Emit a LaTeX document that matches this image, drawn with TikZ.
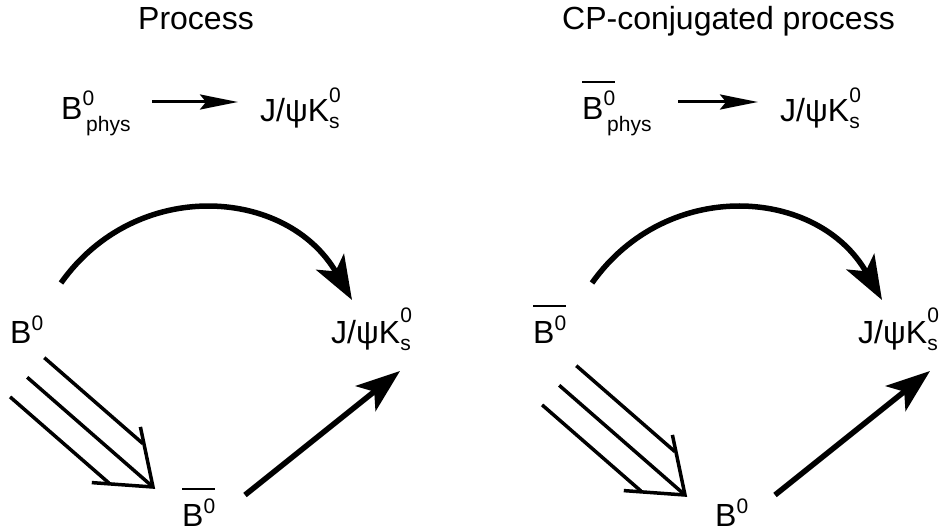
\documentclass[tikz,border=0pt]{standalone}
\usepackage{fontspec}
\setmainfont{Liberation Sans}
\usetikzlibrary{arrows.meta,calc}
\newcommand\lblfont{\fontsize{32}{36}\selectfont}
\newcommand\scr{\fontsize{21}{21}\selectfont}
\newcommand\up[2]{\raisebox{#1}{\scr #2}}
\newcommand\upsub[4]{\rlap{\raisebox{#1}{\scr #2}}\raisebox{-#3}{\scr #4}}
\newcommand\barred[1]{\setbox0\hbox{#1}\rlap{\raisebox{\dimexpr\ht0+8pt\relax}{\rule{\wd0}{2pt}}}\box0}
\tikzset{
  lab/.style={anchor=base west,inner sep=0pt,font=\lblfont},
  thinarrow/.style={line width=3pt,-{Stealth[length=38pt,width=15pt,inset=6pt]}},
  bigarrow/.style={line width=5.5pt,-{Stealth[length=44pt,width=32pt,inset=11pt]}},
  tripleline/.style={line width=3.5pt},
  triplehead/.style={line width=3.5pt,line join=miter,miter limit=20},
}
\newcommand\triplearrow[1]{%
  \draw[tripleline] ($(#1)+(-125.8,-109.7)$) -- (#1);
  \draw[tripleline] ($(#1)+(-108.7,-129.3)$) -- ($(#1)+(-10,-43.3)$);
  \draw[tripleline] ($(#1)+(-142.9,-90.1)$) -- ($(#1)+(-44.2,-4.1)$);
  \draw[triplehead] ($(#1)+(-12.6,-60.1)$) -- (#1) -- ($(#1)+(-61.2,-4.4)$);
}
\begin{document}
\begin{tikzpicture}[x=1pt,y=-1pt]
\useasboundingbox (0,0) rectangle (945,532);
% titles
\node[lab] (t1) at (138,30) {Process};
\node[lab] (t2) at (562,30) {CP-conjugated process};
% top reactions
\node[lab] (pL) at (61,120) {B\up{14pt}{0}\kern-8pt\raisebox{-12pt}{\scr phys}};
\node[lab] (fL) at (260,122) {J/ψK\upsub{20pt}{0}{6pt}{s}};
\node[lab] (pR) at (582,120) {\barred{B\up{14pt}{0}}\kern-8pt\raisebox{-12pt}{\scr phys}};
\node[lab] (fR) at (780,122) {J/ψK\upsub{20pt}{0}{6pt}{s}};
\coordinate (aL1) at (152,102); \coordinate (aL2) at (238,102);
\coordinate (aR1) at (678,102); \coordinate (aR2) at (758,102);
\draw[thinarrow] (aL1) -- (aL2);
\draw[thinarrow] (aR1) -- (aR2);
% left diagram
\node[lab] (b1) at (10,343) {B\up{13pt}{0}};
\node[lab] (j1) at (331,343) {J/ψK\upsub{21pt}{0}{7pt}{s}};
\node[lab] (c1) at (182,526) {\barred{B\up{13pt}{0}}};
\coordinate (cs1) at (61,283); \coordinate (ce1) at (352,300);
\draw[bigarrow] (cs1) .. controls (136,177) and (287,187) .. (ce1);
\coordinate (ss1) at (245,495); \coordinate (se1) at (400,371);
\draw[bigarrow] (ss1) -- (se1);
\coordinate (tt1) at (153,487);
\triplearrow{tt1}
% right diagram
\node[lab] (b2) at (533,343) {\barred{B\up{13pt}{0}}};
\node[lab] (j2) at (858,343) {J/ψK\upsub{21pt}{0}{7pt}{s}};
\node[lab] (c2) at (715,526) {B\up{13pt}{0}};
\coordinate (cs2) at (592,283); \coordinate (ce2) at (882,300);
\draw[bigarrow] (cs2) .. controls (667,177) and (818,187) .. (ce2);
\coordinate (ss2) at (775,495); \coordinate (se2) at (930,371);
\draw[bigarrow] (ss2) -- (se2);
\coordinate (tt2) at (685,495);
\triplearrow{tt2}
\end{tikzpicture}
\end{document}
